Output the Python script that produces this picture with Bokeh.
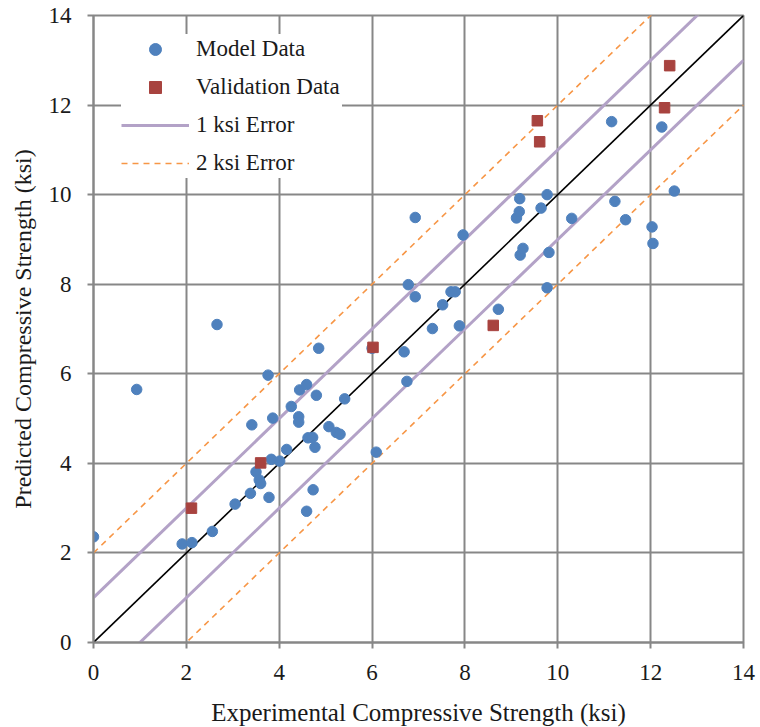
from bokeh.plotting import figure
from bokeh.models import Range1d, Legend, LegendItem, FixedTicker
from bokeh.embed import file_html
from bokeh.resources import INLINE

# Model data (experimental, predicted) in ksi
model_x = [0.00, 0.93, 1.91, 2.12, 2.56, 2.66, 3.05, 3.38, 3.41, 3.50, 3.57, 3.60, 3.76,
           3.78, 3.83, 3.86, 4.01, 4.16, 4.26, 4.42, 4.42, 4.44, 4.59, 4.59, 4.62, 4.72,
           4.73, 4.77, 4.80, 4.85, 5.07, 5.23, 5.31, 5.41, 6.00, 6.09, 6.69, 6.75, 6.78,
           6.93, 6.93, 7.30, 7.52, 7.70, 7.79, 7.88, 7.96, 8.72, 9.11, 9.17, 9.18, 9.19,
           9.25, 9.64, 9.77, 9.77, 9.81, 10.30, 11.16, 11.23, 11.46, 12.03, 12.05, 12.24, 12.51]
model_y = [2.36, 5.65, 2.20, 2.23, 2.48, 7.10, 3.09, 3.33, 4.86, 3.81, 3.63, 3.55, 5.97,
           3.24, 4.09, 5.01, 4.05, 4.31, 5.27, 5.04, 4.92, 5.64, 5.76, 2.93, 4.57, 4.58,
           3.41, 4.36, 5.52, 6.57, 4.82, 4.69, 4.65, 5.44, 6.57, 4.25, 6.49, 5.83, 7.99,
           7.72, 9.49, 7.01, 7.54, 7.83, 7.83, 7.07, 9.10, 7.44, 9.48, 9.62, 9.91, 8.65,
           8.80, 9.70, 10.00, 7.92, 8.71, 9.47, 11.63, 9.85, 9.44, 9.28, 8.91, 11.51, 10.08]

# Validation data
valid_x = [2.11, 3.60, 6.02, 8.61, 9.56, 9.61, 12.30, 12.41]
valid_y = [3.00, 4.01, 6.59, 7.08, 11.65, 11.18, 11.94, 12.88]

# Reference lines
line_x = [0, 14]
err1 = 1.0
err2 = 2.0
ticks = [0, 2, 4, 6, 8, 10, 12, 14]

FONT = "Liberation Serif"
GRID = "#878787"
TXT = "#1a1a1a"

p = figure(width=760, height=742, output_backend="svg", toolbar_location=None,
           x_range=Range1d(0, 14), y_range=Range1d(0, 14),
           min_border_left=93, min_border_right=17, min_border_top=15, min_border_bottom=100)
p.background_fill_color = "white"
p.border_fill_color = "white"
p.outline_line_color = GRID
p.outline_line_width = 2

for ax in (p.xaxis[0], p.yaxis[0]):
    ax.ticker = FixedTicker(ticks=ticks)
    ax.axis_line_color = GRID
    ax.axis_line_width = 2
    ax.major_tick_line_color = GRID
    ax.major_tick_line_width = 2
    ax.major_tick_out = 6
    ax.major_tick_in = 0
    ax.minor_tick_line_color = None
    ax.major_label_text_font = FONT
    ax.major_label_text_font_size = "23px"
    ax.major_label_text_color = TXT
    ax.axis_label_text_font = FONT
    ax.axis_label_text_font_style = "normal"
    ax.axis_label_text_color = TXT

p.xaxis.axis_label = "Experimental Compressive Strength (ksi)"
p.yaxis.axis_label = "Predicted Compressive Strength (ksi)"
p.xaxis.axis_label_text_font_size = "25px"
p.yaxis.axis_label_text_font_size = "24px"
p.xaxis.major_label_standoff = 16
p.yaxis.major_label_standoff = 16
p.xaxis.axis_label_standoff = 16
p.yaxis.axis_label_standoff = 10

p.xgrid.ticker = FixedTicker(ticks=ticks)
p.ygrid.ticker = FixedTicker(ticks=ticks)
p.grid.grid_line_color = GRID
p.grid.grid_line_width = 2

# lines
p.line(line_x, [v for v in line_x], line_color="black", line_width=1.6)
r1a = p.line(line_x, [v + err1 for v in line_x], line_color="#B3A2C7", line_width=3)
p.line(line_x, [v - err1 for v in line_x], line_color="#B3A2C7", line_width=3)
r2a = p.line(line_x, [v + err2 for v in line_x], line_color="#F79646", line_width=1.6, line_dash="6 5")
p.line(line_x, [v - err2 for v in line_x], line_color="#F79646", line_width=1.6, line_dash="6 5")

rm = p.scatter(model_x, model_y, marker="circle", size=10.5, fill_color="#4F81BD", line_color="#4F81BD")
rv = p.scatter(valid_x, valid_y, marker="square", size=10.5, fill_color="#A8433F", line_color="#A8433F")

legend = Legend(items=[
    LegendItem(label="Model Data", renderers=[rm]),
    LegendItem(label="Validation Data", renderers=[rv]),
    LegendItem(label="1 ksi Error", renderers=[r1a]),
    LegendItem(label="2 ksi Error", renderers=[r2a]),
], location=(28, 464))
legend.background_fill_color = "white"
legend.background_fill_alpha = 1.0
legend.border_line_color = None
legend.label_text_font = FONT
legend.label_text_font_size = "23px"
legend.label_text_color = TXT
legend.glyph_width = 68
legend.glyph_height = 30
legend.label_height = 30
legend.label_width = 146
legend.spacing = 8
legend.padding = 10
legend.margin = 0
legend.label_standoff = 7
p.add_layout(legend)

html = file_html(p, INLINE)
html = html.replace("<head>", "<head><style>html,body{overflow:hidden;margin:0;padding:0}</style>", 1)
open("out.html", "w").write(html)
